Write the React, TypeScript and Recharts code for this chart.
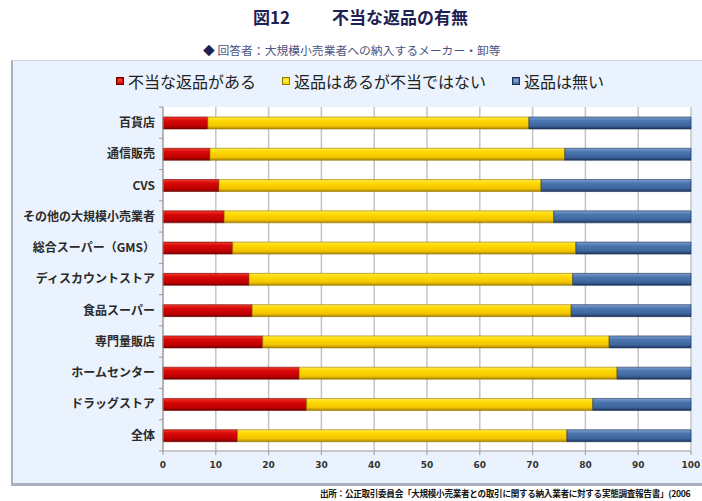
import React from 'react';
import {Bar, BarChart, CartesianGrid, Legend, XAxis, YAxis} from 'recharts';

const categories = [
    '百貨店',
    '通信販売',
    'CVS',
    'その他の大規模小売業者',
    '総合スーパー（GMS）',
    'ディスカウントストア',
    '食品スーパー',
    '専門量販店',
    'ホームセンター',
    'ドラッグストア',
    '全体',
];
const unfairReturns = [8.5, 8.9, 10.6, 11.6, 13.2, 16.3, 16.9, 18.9, 25.8, 27.2, 14.1];
const fairReturns = [60.8, 67.2, 61.0, 62.4, 65.0, 61.3, 60.4, 65.6, 60.2, 54.2, 62.4];
const noReturns = [30.7, 23.9, 28.4, 26.0, 21.8, 22.4, 22.7, 15.5, 14.0, 18.6, 23.5];
const xTicks = [0, 10, 20, 30, 40, 50, 60, 70, 80, 90, 100];
const seriesNames = ['不当な返品がある', '返品はあるが不当ではない', '返品は無い'];

const chartData = categories.map((name, i) => ({
    name,
    unfair: unfairReturns[i],
    fair: fairReturns[i],
    none: noReturns[i],
}));

const series = [
    {key: 'unfair', name: seriesNames[0], id: 'gRed', stops: ['#f23a2a', '#d80808', '#c00000', '#7a0000'], edge: '#6a0000'},
    {key: 'fair', name: seriesNames[1], id: 'gYellow', stops: ['#ffe94a', '#ffd900', '#f2c400', '#a88400'], edge: '#9a7800'},
    {key: 'none', name: seriesNames[2], id: 'gBlue', stops: ['#7ea0d0', '#4c76b0', '#3d649c', '#1d355c'], edge: '#1a2f52'},
];

const JP = '"Noto Sans CJK JP", "Noto Sans", sans-serif';
const PLOT_LEFT = 163;
const BAND = 344 / 11;

const CategoryTick = (props: any) => {
    const {y, payload, index} = props;
    return (
        <g>
            <line x1={PLOT_LEFT - 4} x2={PLOT_LEFT} y1={y - BAND / 2} y2={y - BAND / 2} stroke='#999' />
            {index === categories.length - 1 && (
                <line x1={PLOT_LEFT - 4} x2={PLOT_LEFT} y1={y + BAND / 2} y2={y + BAND / 2} stroke='#999' />
            )}
            <text x={155} y={y} dy='0.36em' textAnchor='end' fontSize={12} fontWeight={700} fill='#2a2a2a' fontFamily={JP}>
                {payload.value}
            </text>
        </g>
    );
};

const LegendBox = () => (
    <div style={{display: 'flex', alignItems: 'center', fontFamily: JP, fontSize: 16, color: '#222', whiteSpace: 'nowrap'}}>
        {series.map((s, i) => (
            <div key={s.key} style={{display: 'flex', alignItems: 'center', marginRight: i < 2 ? 26 : 0}}>
                <svg width={8} height={8} style={{marginRight: 4}}>
                    <rect x={0.5} y={0.5} width={7} height={7} fill={s.stops[1]} stroke={s.edge} />
                    <rect x={2} y={2} width={4} height={3} fill={s.stops[0]} />
                </svg>
                <span>{s.name}</span>
            </div>
        ))}
    </div>
);

export default function App() {
    return (
        <div style={{position: 'absolute', left: 0, top: 0, width: 702, height: 501, overflow: 'hidden', background: '#fff'}}>
            <div style={{position: 'absolute', left: 253, top: 7, fontFamily: JP, fontSize: 17, fontWeight: 700, lineHeight: '20px', color: '#1e2252', whiteSpace: 'nowrap'}}>
                図12
            </div>
            <div style={{position: 'absolute', left: 332, top: 7, fontFamily: JP, fontSize: 17, fontWeight: 700, lineHeight: '20px', color: '#1e2252', whiteSpace: 'nowrap'}}>
                不当な返品の有無
            </div>
            <div style={{position: 'absolute', left: 203, top: 42, fontFamily: JP, fontSize: 11.8, lineHeight: '16px', color: '#4a5585', whiteSpace: 'nowrap'}}>
                <span style={{color: '#1e2252'}}>◆</span> 回答者：大規模小売業者への納入するメーカー・卸等
            </div>
            <div
                style={{
                    position: 'absolute',
                    left: 11,
                    top: 60,
                    width: 700,
                    height: 422,
                    background: '#eaf3fd',
                    borderTop: '1px solid #c9d6e2',
                    borderLeft: '2px solid #a7b1bb',
                    borderBottom: '3px solid #a9b2bc',
                }}
            />
            <div style={{position: 'absolute', left: 0, top: 0}}>
                <BarChart
                    width={702}
                    height={501}
                    data={chartData}
                    layout='vertical'
                    barSize={12}
                    margin={{top: 107, right: 11, bottom: 20, left: 0}}
                >
                    <defs>
                        {series.map((s) => (
                            <linearGradient key={s.id} id={s.id} x1='0' y1='0' x2='0' y2='1'>
                                <stop offset='0%' stopColor={s.stops[0]} />
                                <stop offset='30%' stopColor={s.stops[1]} />
                                <stop offset='75%' stopColor={s.stops[2]} />
                                <stop offset='100%' stopColor={s.stops[3]} />
                            </linearGradient>
                        ))}
                    </defs>
                    <CartesianGrid horizontal={false} stroke='#c4c4c4' strokeWidth={1.5} fill='#fff' />
                    <XAxis
                        type='number'
                        domain={[0, 100]}
                        ticks={xTicks}
                        height={30}
                        tickSize={4}
                        tickMargin={7}
                        stroke='#999'
                        tick={{fontSize: 9, fontWeight: 700, fill: '#333', fontFamily: '"DejaVu Sans", sans-serif'}}
                    />
                    <YAxis
                        type='category'
                        dataKey='name'
                        width={163}
                        tickLine={false}
                        stroke='#999'
                        interval={0}
                        tick={<CategoryTick />}
                    />
                    <Legend
                        layout='vertical'
                        align='center'
                        verticalAlign='middle'
                        content={<LegendBox />}
                        wrapperStyle={{top: 69, left: 116, width: 520, height: 22}}
                    />
                    {series.map((s) => (
                        <Bar
                            key={s.key}
                            dataKey={s.key}
                            name={s.name}
                            stackId='a'
                            fill={`url(#${s.id})`}
                            stroke={s.edge}
                            strokeWidth={0.6}
                            isAnimationActive={false}
                        />
                    ))}
                </BarChart>
            </div>
            <div style={{position: 'absolute', left: 320, top: 487, fontFamily: JP, fontSize: 8.6, letterSpacing: -0.3, fontWeight: 700, lineHeight: '12px', color: '#111', whiteSpace: 'nowrap'}}>
                出所：公正取引委員会「大規模小売業者との取引に関する納入業者に対する実態調査報告書」(2006
            </div>
        </div>
    );
}
